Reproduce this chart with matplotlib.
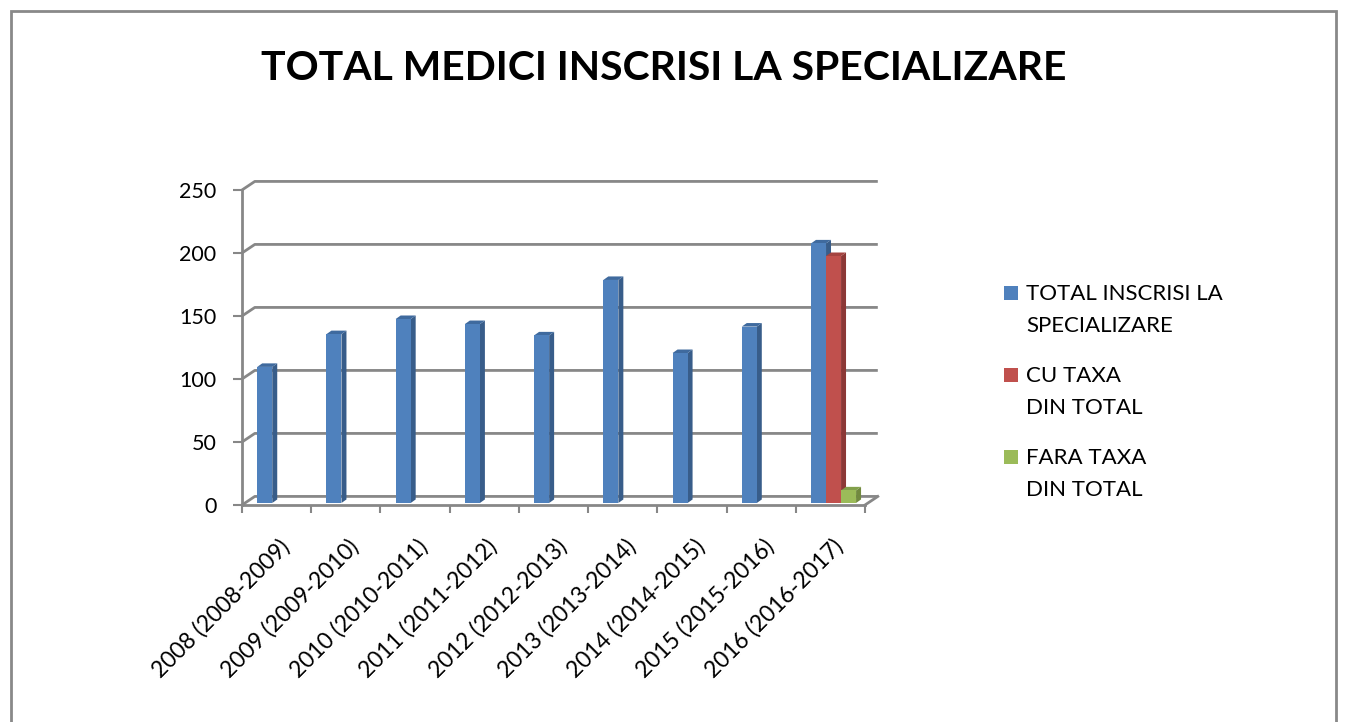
import matplotlib
matplotlib.use("Agg")
import matplotlib.pyplot as plt
from matplotlib.patches import Rectangle, Polygon
import matplotlib.transforms as mtransforms

plt.rcParams['font.family'] = ['Lato', 'DejaVu Sans']

# data
categories = ["2008 (2008-2009)", "2009 (2009-2010)", "2010 (2010-2011)",
              "2011 (2011-2012)", "2012 (2012-2013)", "2013 (2013-2014)",
              "2014 (2014-2015)", "2015 (2015-2016)", "2016 (2016-2017)"]
total_inscrisi = [108, 134, 146, 142, 133, 177, 119, 140, 206]
cu_taxa = [0, 0, 0, 0, 0, 0, 0, 0, 196]
fara_taxa = [0, 0, 0, 0, 0, 0, 0, 0, 10]
series_names = ["TOTAL INSCRISI LA\nSPECIALIZARE", "CU TAXA\nDIN TOTAL", "FARA TAXA\nDIN TOTAL"]
yticks = [0, 50, 100, 150, 200, 250]

# face, side, top colours per series
colors = [("#4F81BD", "#385D8A", "#3F6A9E"),
          ("#C0504D", "#8C3836", "#A44340"),
          ("#9BBB59", "#71893F", "#82A04A")]

W, H = 1346, 722
fig = plt.figure(figsize=(W / 100, H / 100), dpi=100)
ax = fig.add_axes([242 / W, (H - 505) / H, 623 / W, 315 / H])
ax.set_xlim(-0.5, 8.5)
ax.set_ylim(0, 250)

# 3d wall offsets (data units)
dx, dy = 0.185, 6.8
grid_c = "#878787"

for v in yticks:
    ax.plot([-0.5, -0.5 + dx, 8.5 + dx], [v, v + dy, v + dy], color=grid_c,
            lw=2, clip_on=False, zorder=1, solid_capstyle="butt")
ax.plot([8.5, 8.5 + dx], [0, dy], color=grid_c, lw=2, clip_on=False, zorder=1)

# bars with side and top faces
bw = 0.217
offsets = [-0.28, -0.063, 0.154]
sy = 1.6
bdx, bdy = 0.072, 2.8
for s, vals in enumerate([total_inscrisi, cu_taxa, fara_taxa]):
    face, side, top = colors[s]
    for i, v in enumerate(vals):
        if v <= 0:
            continue
        x0 = i + offsets[s]
        y0, y1 = sy, sy + v
        ax.add_patch(Polygon([(x0 + bw, y0), (x0 + bw + bdx, y0 + bdy),
                              (x0 + bw + bdx, y1 + bdy), (x0 + bw, y1)],
                             closed=True, fc=side, ec="none", zorder=3 + s))
        ax.add_patch(Polygon([(x0, y1), (x0 + bdx, y1 + bdy),
                              (x0 + bw + bdx, y1 + bdy), (x0 + bw, y1)],
                             closed=True, fc=top, ec="none", zorder=3 + s))
        ax.add_patch(Rectangle((x0, y0), bw, v, fc=face, ec="none", zorder=3 + s))

for side in ["top", "right"]:
    ax.spines[side].set_visible(False)
for side in ["left", "bottom"]:
    ax.spines[side].set_color(grid_c)
    ax.spines[side].set_linewidth(2)
    ax.spines[side].set_zorder(2)

ax.set_yticks(yticks)
ax.tick_params(axis="y", length=6.5, width=1.5, color=grid_c, pad=12,
               labelsize=15.5, labelcolor="black")
ax.set_xticks([i - 0.5 for i in range(10)])
ax.set_xticklabels([])
ax.set_xticks(range(9), minor=True)
ax.set_xticklabels(categories, minor=True, rotation=45, ha="right",
                   rotation_mode="anchor", fontsize=16.5)
ax.tick_params(axis="x", which="major", length=5.5, width=1.5, color=grid_c)
ax.tick_params(axis="x", which="minor", length=0, pad=22)
shift = mtransforms.ScaledTranslation(2 / 100, 0, fig.dpi_scale_trans)
for lab in ax.get_xticklabels(minor=True):
    lab.set_transform(lab.get_transform() + shift)

fig.text(664 / W, 1 - 80 / H, "TOTAL MEDICI INSCRISI LA SPECIALIZARE",
         ha="center", va="baseline", fontsize=29.4, fontweight="bold")

# legend
entry_base = [300, 382, 464]
for s, name in enumerate(series_names):
    b = entry_base[s]
    fig.add_artist(Rectangle((1004 / W, 1 - b / H), 14 / W, 14 / H,
                             transform=fig.transFigure, fc=colors[s][0], ec="none"))
    for k, line in enumerate(name.split("\n")):
        fig.text(1026 / W, 1 - (b + 32 * k) / H, line, ha="left",
                 va="baseline", fontsize=16)

# chart border
fig.add_artist(Rectangle((11 / W, -0.1), (1336 - 11) / W, 1.1 - 10.5 / H,
                         transform=fig.transFigure, fill=False,
                         ec="#898989", lw=2))

fig.savefig("out.png", dpi=100)
